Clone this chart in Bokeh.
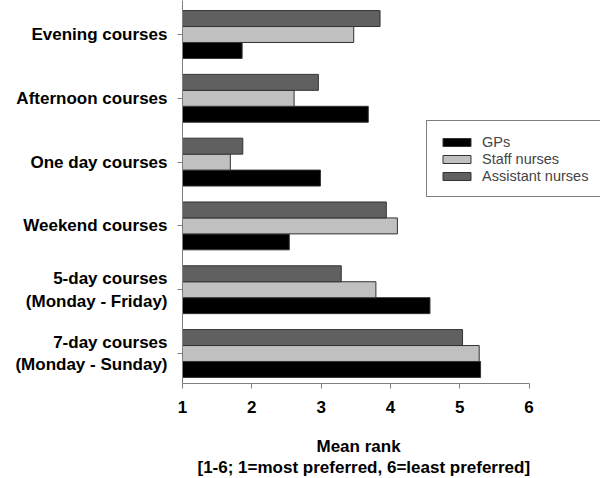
from bokeh.plotting import figure
from bokeh.models import ColumnDataSource, FixedTicker, Legend, LegendItem, Range1d, Title
from bokeh.embed import file_html
from bokeh.resources import INLINE
from bokeh.transform import dodge

categories = ["Evening courses", "Afternoon courses", "One day courses", "Weekend courses",
              "5-day courses\n(Monday - Friday)", "7-day courses\n(Monday - Sunday)"]
gps = [1.86, 3.68, 2.99, 2.54, 4.57, 5.30]
staff = [3.47, 2.61, 1.69, 4.10, 3.79, 5.28]
assistant = [3.85, 2.96, 1.87, 3.94, 3.29, 5.04]
series_names = ["GPs", "Staff nurses", "Assistant nurses"]
series_colors = ["#000000", "#c0c0c0", "#606060"]
x_ticks = [1, 2, 3, 4, 5, 6]
x_title_lines = ["Mean rank", "[1-6; 1=most preferred, 6=least preferred]"]

pos = [len(categories) - 1 - i for i in range(len(categories))]
src = ColumnDataSource(dict(pos=pos, gps=gps, staff=staff, assistant=assistant))

FONT = "Liberation Sans"

p = figure(width=600, height=478, output_backend="svg", toolbar_location=None,
           x_range=Range1d(1, 7.03), y_range=Range1d(-0.47, 5.533),
           min_border_left=182, min_border_right=0, min_border_top=0, min_border_bottom=95)
p.outline_line_color = None
p.xgrid.visible = False
p.ygrid.visible = False

cols = ["gps", "staff", "assistant"]
offsets = [-0.25, 0.0, 0.25]
renderers = []
for col, off, color in zip(cols, offsets, series_colors):
    r = p.hbar(y=dodge("pos", off), left=1, right=col, height=0.25, source=src,
               fill_color=color, line_color="#333333", line_width=1)
    renderers.append(r)

p.yaxis.ticker = FixedTicker(ticks=pos)
p.yaxis.major_label_overrides = {pp: c for pp, c in zip(pos, categories)}
p.xaxis.ticker = FixedTicker(ticks=x_ticks)
p.xaxis.bounds = (1, 6)
p.yaxis.minor_tick_line_color = None
p.xaxis.minor_tick_line_color = None

for ax in (p.xaxis, p.yaxis):
    ax.axis_line_color = "#7f7f7f"
    ax.major_tick_line_color = "#7f7f7f"
    ax.major_tick_in = 0
    ax.major_tick_out = 5
    ax.major_label_text_font = FONT
    ax.major_label_text_font_size = "17px"
    ax.major_label_text_font_style = "bold"
    ax.major_label_text_color = "#000000"

p.yaxis.major_label_standoff = 10
p.xaxis.major_label_standoff = 12

# x-axis title, centred under the 1..6 axis span (frame extends right to hold the legend)
spacer = Title(text=" ", text_font_size="1px", standoff=16)
t1 = Title(text=x_title_lines[0], align="left", offset=134, standoff=0,
           text_font=FONT, text_font_size="17px", text_font_style="bold", text_color="#000000")
t2 = Title(text=x_title_lines[1], align="left", offset=15, standoff=0,
           text_font=FONT, text_font_size="17px", text_font_style="bold", text_color="#000000")
p.add_layout(spacer, "below")
p.add_layout(t1, "below")
p.add_layout(t2, "below")

legend = Legend(items=[LegendItem(label=n, renderers=[r]) for n, r in zip(series_names, renderers)],
                location=(244, 186))
legend.border_line_color = "#000000"
legend.border_line_width = 1
legend.background_fill_color = "white"
legend.background_fill_alpha = 1
legend.label_text_font = FONT
legend.label_text_font_size = "14.5px"
legend.glyph_width = 35
legend.glyph_height = 10
legend.label_standoff = 8
legend.label_height = 17
legend.spacing = 0
legend.padding = 12
legend.margin = 0
p.add_layout(legend, "center")

open("out.html", "w").write(file_html(p, INLINE))
